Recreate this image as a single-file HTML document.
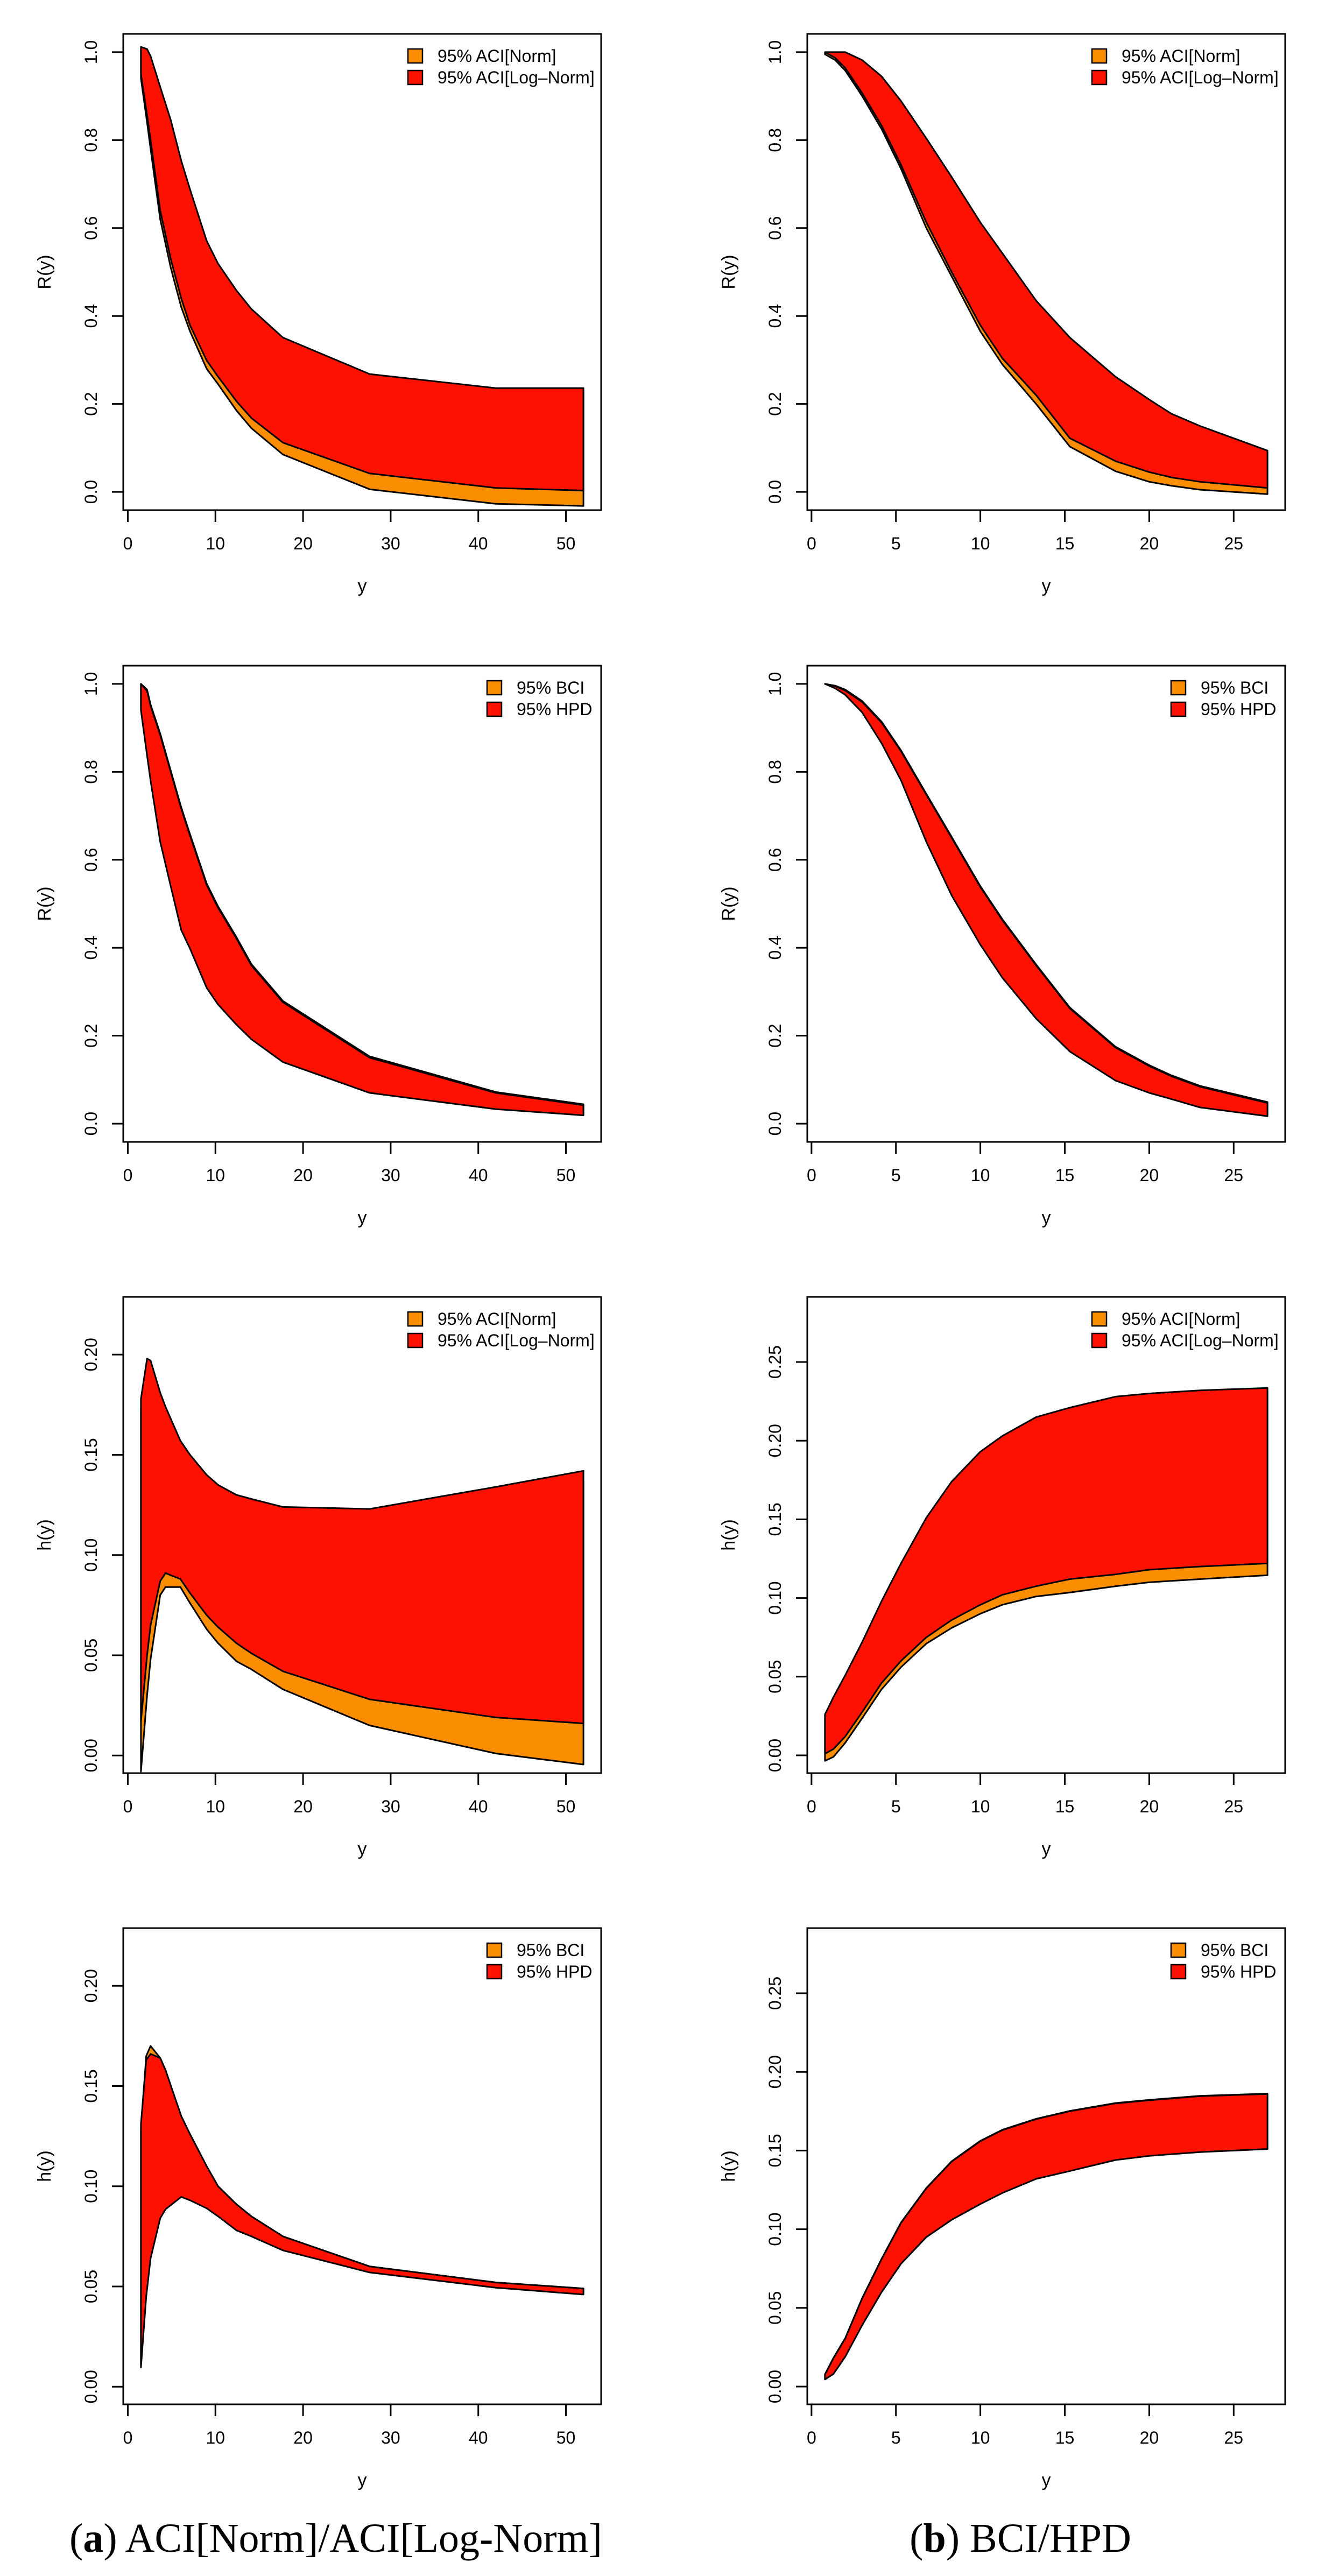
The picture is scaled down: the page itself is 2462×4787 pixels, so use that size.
<!DOCTYPE html>
<html><head><meta charset="utf-8"><style>
html,body{margin:0;padding:0;background:#fff;}
svg{display:block;}
text{font-family:"Liberation Sans",sans-serif;}
</style></head>
<body>
<svg id="fig" xmlns="http://www.w3.org/2000/svg" width="2462" height="4787" viewBox="0 0 2462 4787">
<rect x="0" y="0" width="2462" height="4787" fill="#fff"/>
<text x="624" y="4742" text-anchor="middle" font-size="76" style="font-family:'Liberation Serif',serif">(<tspan font-weight="bold">a</tspan>) ACI[Norm]/ACI[Log-Norm]</text>
<text x="1896" y="4742" text-anchor="middle" font-size="76" style="font-family:'Liberation Serif',serif">(<tspan font-weight="bold">b</tspan>) BCI/HPD</text>
</svg>
<script>
// ---- data ----
const xLeftA = [1.5,2.2,2.6,3.7,4.9,6.1,7.1,9.0,10.3,12.4,14.1,17.7,27.6,42,52];
const xLeftB = [1.5,2.2,2.6,3.7,4.3,6.0,7.1,9.0,10.3,12.4,14.1,17.7,27.6,42,52];
const xLeftC = [1.5,2.1,2.6,3.7,4.3,6.1,7.1,9.0,10.3,12.4,14.1,17.7,27.6,42,52];
const xRight = [0.8,1.4,2,3,4.15,5.3,6.8,8.3,10,11.3,13.3,15.3,18,20,21.3,23,27];
const xRightH = [0.8,1.3,2,3,4.15,5.3,6.8,8.3,10,11.3,13.3,15.3,18,20,23,27];

// Panel 1: R(y) ACI, left
const p1LogU = [1.012,1.007,0.991,0.921,0.846,0.753,0.688,0.571,0.519,0.458,0.416,0.351,0.268,0.236,0.236];
const p1LogL = [0.95,0.856,0.80,0.64,0.53,0.44,0.379,0.299,0.262,0.206,0.168,0.112,0.042,0.009,0.003];
const p1NormU = [1.007,1.002,0.986,0.916,0.841,0.748,0.683,0.566,0.514,0.453,0.411,0.346,0.263,0.231,0.231];
const p1NormL = [0.94,0.84,0.78,0.62,0.51,0.42,0.365,0.28,0.245,0.185,0.145,0.085,0.006,-0.027,-0.032];
// Panel 2: R(y) ACI, right
const p2LogU = [1.0,1.0,1.0,0.982,0.945,0.889,0.804,0.716,0.613,0.543,0.435,0.351,0.262,0.21,0.178,0.15,0.094];
const p2LogL = [1.0,0.987,0.964,0.907,0.833,0.744,0.613,0.5,0.379,0.304,0.22,0.122,0.07,0.045,0.033,0.023,0.009];
const p2NormU = [0.998,0.998,0.997,0.979,0.942,0.886,0.801,0.713,0.61,0.54,0.432,0.348,0.259,0.207,0.175,0.147,0.091];
const p2NormL = [0.995,0.982,0.958,0.9,0.825,0.735,0.6,0.49,0.365,0.29,0.2,0.103,0.047,0.023,0.014,0.005,-0.005];
// Panel 3: R(y) BCI/HPD, left
const p3HpdU = [1.0,0.984,0.95,0.884,0.8,0.716,0.655,0.543,0.491,0.421,0.36,0.276,0.15,0.07,0.042];
const p3HpdL = [0.94,0.837,0.78,0.641,0.54,0.44,0.398,0.309,0.271,0.225,0.192,0.14,0.07,0.033,0.019];
const p3BciU = [1.0,0.987,0.953,0.887,0.803,0.719,0.658,0.546,0.494,0.424,0.363,0.279,0.153,0.072,0.044];
const p3BciL = [0.943,0.84,0.783,0.644,0.543,0.443,0.401,0.312,0.274,0.228,0.195,0.143,0.073,0.035,0.021];
// Panel 4: R(y) BCI/HPD, right
const p4HpdU = [1.0,0.995,0.985,0.959,0.912,0.847,0.748,0.65,0.538,0.463,0.36,0.262,0.173,0.131,0.108,0.084,0.047];
const p4HpdL = [1.0,0.99,0.975,0.935,0.865,0.781,0.641,0.519,0.407,0.332,0.239,0.164,0.098,0.07,0.056,0.037,0.017];
const p4BciU = [1.0,0.996,0.987,0.961,0.914,0.849,0.75,0.652,0.54,0.465,0.362,0.264,0.175,0.133,0.11,0.086,0.049];
const p4BciL = [1.0,0.991,0.976,0.937,0.867,0.783,0.643,0.521,0.409,0.334,0.241,0.166,0.1,0.072,0.058,0.039,0.019];
// Panel 5: h(y) ACI, left
const p5LogU = [0.178,0.198,0.197,0.181,0.174,0.157,0.150,0.140,0.135,0.130,0.128,0.124,0.123,0.134,0.142];
const p5LogL = [0.017,0.05,0.065,0.087,0.091,0.088,0.081,0.070,0.064,0.056,0.051,0.042,0.028,0.019,0.016];
const p5NormU = [0.173,0.193,0.192,0.176,0.169,0.152,0.145,0.135,0.130,0.125,0.123,0.119,0.118,0.129,0.137];
const p5NormL = [-0.008,0.03,0.048,0.08,0.084,0.084,0.076,0.063,0.056,0.047,0.043,0.033,0.015,0.001,-0.0045];
// Panel 6: h(y) ACI, right
const p6LogU = [0.026,0.037,0.051,0.072,0.098,0.122,0.151,0.174,0.193,0.203,0.215,0.221,0.228,0.230,0.232,0.2335];
const p6LogL = [0.001,0.004,0.012,0.0275,0.046,0.06,0.075,0.086,0.0957,0.102,0.1075,0.112,0.115,0.118,0.12,0.122];
const p6NormU = [0.024,0.035,0.049,0.07,0.096,0.12,0.149,0.172,0.191,0.201,0.213,0.219,0.226,0.228,0.230,0.2315];
const p6NormL = [-0.0035,-0.001,0.008,0.0236,0.042,0.056,0.071,0.081,0.090,0.0957,0.101,0.1035,0.1075,0.11,0.112,0.1145];
// Panel 7: h(y) BCI/HPD, left
const p7HpdU = [0.131,0.163,0.166,0.164,0.158,0.135,0.126,0.110,0.100,0.091,0.085,0.075,0.060,0.052,0.049];
const p7HpdL = [0.0097,0.045,0.064,0.084,0.0885,0.0947,0.093,0.089,0.085,0.078,0.075,0.068,0.057,0.0494,0.046];
const p7BciU = [0.129,0.165,0.170,0.164,0.158,0.134,0.126,0.110,0.100,0.091,0.085,0.075,0.060,0.052,0.049];
const p7BciL = [0.011,0.047,0.065,0.085,0.089,0.0955,0.094,0.09,0.086,0.079,0.076,0.069,0.058,0.05,0.047];
// Panel 8: h(y) BCI/HPD, right
const p8HpdU = [0.0076,0.018,0.0306,0.056,0.081,0.104,0.126,0.143,0.156,0.163,0.170,0.175,0.180,0.182,0.1846,0.186];
const p8HpdL = [0.0045,0.008,0.019,0.039,0.060,0.078,0.095,0.106,0.116,0.123,0.132,0.137,0.144,0.1466,0.149,0.151];
const p8BciU = [0.0078,0.0182,0.0308,0.0562,0.0812,0.1042,0.1262,0.1432,0.1562,0.1632,0.1702,0.1752,0.1802,0.1822,0.1848,0.1862];
const p8BciL = [0.0047,0.0082,0.0192,0.0392,0.0602,0.0782,0.0952,0.1062,0.1162,0.1232,0.1322,0.1372,0.1442,0.1468,0.1492,0.1512];

const ticksR = [0,0.2,0.4,0.6,0.8,1.0];
const ticksRLabels = ["0.0","0.2","0.4","0.6","0.8","1.0"];
const ticksHL = [0,0.05,0.10,0.15,0.20];
const ticksHLLabels = ["0.00","0.05","0.10","0.15","0.20"];
const ticksHR = [0,0.05,0.10,0.15,0.20,0.25];
const ticksHRLabels = ["0.00","0.05","0.10","0.15","0.20","0.25"];
const ticksXL = [0,10,20,30,40,50];
const ticksXR = [0,5,10,15,20,25];

const NS = "http://www.w3.org/2000/svg";
const svg = document.getElementById('fig');
const ORANGE = "#FA8E00", RED = "#FF1100";

function mk(tag, attrs, parent){
  const e = document.createElementNS(NS, tag);
  for (const k in attrs) e.setAttribute(k, attrs[k]);
  (parent||svg).appendChild(e);
  return e;
}

function panel(o){
  const g = mk('g', {});
  
  
  const L=o.left, T=o.top, W=888, H=885;
  const sx = v => L + (v - o.xlim[0])/(o.xlim[1]-o.xlim[0])*W;
  const sy = v => T + H - (v - o.ylim[0])/(o.ylim[1]-o.ylim[0])*H;
  function band(x, lo, hi, fill, nm){
    let pts = [];
    for (let i=0;i<x.length;i++) pts.push(sx(x[i]).toFixed(1)+','+sy(hi[i]).toFixed(1));
    for (let i=x.length-1;i>=0;i--) pts.push(sx(x[i]).toFixed(1)+','+sy(lo[i]).toFixed(1));
    const p = mk('polygon', {points: pts.join(' '), fill: fill, stroke:'#000', 'stroke-width':3, 'stroke-linejoin':'round'}, g);
    
    
  }
  band(o.x, o.aL, o.aU, ORANGE, o.aName);
  band(o.x, o.bL, o.bU, RED, o.bName);
  const box = mk('rect', {x:L, y:T, width:W, height:H, fill:'none', stroke:'#000', 'stroke-width':3}, g);
  
  
  const ya = mk('g', {}, g);
  
  
  o.yt.forEach((v,i)=>{
    const yy = sy(v);
    const tk = mk('line', {x1:L-21, x2:L, y1:yy, y2:yy, stroke:'#000','stroke-width':3}, ya);
    
    
    const t = mk('text', {x:L-49, y:yy, 'font-size':32, 'text-anchor':'middle', transform:'rotate(-90 '+(L-49)+' '+yy+')'}, ya);
    t.textContent = o.ytl[i];
    
    
  });
  const yt = mk('text', {x:L-135, y:T+H/2, 'font-size':34, 'text-anchor':'middle', transform:'rotate(-90 '+(L-135)+' '+(T+H/2)+')'}, g);
  yt.textContent = o.ytitle;
  
  
  const xa = mk('g', {}, g);
  
  
  const B = T+H;
  o.xt.forEach(v=>{
    const xx = sx(v);
    const tk = mk('line', {x1:xx, x2:xx, y1:B, y2:B+22, stroke:'#000','stroke-width':3}, xa);
    
    
    const t = mk('text', {x:xx, y:B+73, 'font-size':32, 'text-anchor':'middle'}, xa);
    t.textContent = String(v);
    
    
  });
  const xt = mk('text', {x:L+W/2, y:B+152, 'font-size':34, 'text-anchor':'middle'}, g);
  xt.textContent = 'y';
  
  
  const lg = mk('g', {}, g);
  
  
  const lx = L + o.legOff;
  [[ORANGE,o.legA],[RED,o.legB]].forEach((e,i)=>{
    const cy = T + 41 + i*40;
    const sq = mk('rect', {x:lx, y:cy-13, width:27, height:26, fill:e[0], stroke:'#000','stroke-width':2.5}, lg);
    
    
    const t = mk('text', {x:lx+55, y:cy+11, 'font-size':32}, lg);
    t.textContent = e[1];
    
    
  });
}

const tops = [63,1237,2410,3583];
const LX = 229, RX = 1500;
const xlimL = [-0.52,54.02], xlimR = [-0.25,28.05];
const ylimR = [-0.0415,1.0415], ylimHL = [-0.0088,0.2288], ylimHR = [-0.0113,0.2914];

panel({name:'panel-R-aci-left', left:LX, top:tops[0], xlim:xlimL, ylim:ylimR, x:xLeftA, aL:p1NormL, aU:p1NormU, bL:p1LogL, bU:p1LogU, aName:'band-aci-norm', bName:'band-aci-lognorm', yt:ticksR, ytl:ticksRLabels, xt:ticksXL, ytitle:'R(y)', legOff:529, legA:'95% ACI[Norm]', legB:'95% ACI[Log\u2013Norm]'});
panel({name:'panel-R-aci-right', left:RX, top:tops[0], xlim:xlimR, ylim:ylimR, x:xRight, aL:p2NormL, aU:p2NormU, bL:p2LogL, bU:p2LogU, aName:'band-aci-norm', bName:'band-aci-lognorm', yt:ticksR, ytl:ticksRLabels, xt:ticksXR, ytitle:'R(y)', legOff:529, legA:'95% ACI[Norm]', legB:'95% ACI[Log\u2013Norm]'});
panel({name:'panel-R-bci-left', left:LX, top:tops[1], xlim:xlimL, ylim:ylimR, x:xLeftA, aL:p3BciL, aU:p3BciU, bL:p3HpdL, bU:p3HpdU, aName:'band-bci', bName:'band-hpd', yt:ticksR, ytl:ticksRLabels, xt:ticksXL, ytitle:'R(y)', legOff:676, legA:'95% BCI', legB:'95% HPD'});
panel({name:'panel-R-bci-right', left:RX, top:tops[1], xlim:xlimR, ylim:ylimR, x:xRight, aL:p4BciL, aU:p4BciU, bL:p4HpdL, bU:p4HpdU, aName:'band-bci', bName:'band-hpd', yt:ticksR, ytl:ticksRLabels, xt:ticksXR, ytitle:'R(y)', legOff:676, legA:'95% BCI', legB:'95% HPD'});
panel({name:'panel-h-aci-left', left:LX, top:tops[2], xlim:xlimL, ylim:ylimHL, x:xLeftB, aL:p5NormL, aU:p5NormU, bL:p5LogL, bU:p5LogU, aName:'band-aci-norm', bName:'band-aci-lognorm', yt:ticksHL, ytl:ticksHLLabels, xt:ticksXL, ytitle:'h(y)', legOff:529, legA:'95% ACI[Norm]', legB:'95% ACI[Log\u2013Norm]'});
panel({name:'panel-h-aci-right', left:RX, top:tops[2], xlim:xlimR, ylim:ylimHR, x:xRightH, aL:p6NormL, aU:p6NormU, bL:p6LogL, bU:p6LogU, aName:'band-aci-norm', bName:'band-aci-lognorm', yt:ticksHR, ytl:ticksHRLabels, xt:ticksXR, ytitle:'h(y)', legOff:529, legA:'95% ACI[Norm]', legB:'95% ACI[Log\u2013Norm]'});
panel({name:'panel-h-bci-left', left:LX, top:tops[3], xlim:xlimL, ylim:ylimHL, x:xLeftC, aL:p7BciL, aU:p7BciU, bL:p7HpdL, bU:p7HpdU, aName:'band-bci', bName:'band-hpd', yt:ticksHL, ytl:ticksHLLabels, xt:ticksXL, ytitle:'h(y)', legOff:676, legA:'95% BCI', legB:'95% HPD'});
panel({name:'panel-h-bci-right', left:RX, top:tops[3], xlim:xlimR, ylim:ylimHR, x:xRightH, aL:p8BciL, aU:p8BciU, bL:p8HpdL, bU:p8HpdU, aName:'band-bci', bName:'band-hpd', yt:ticksHR, ytl:ticksHRLabels, xt:ticksXR, ytitle:'h(y)', legOff:676, legA:'95% BCI', legB:'95% HPD'});
</script>
</body></html>
